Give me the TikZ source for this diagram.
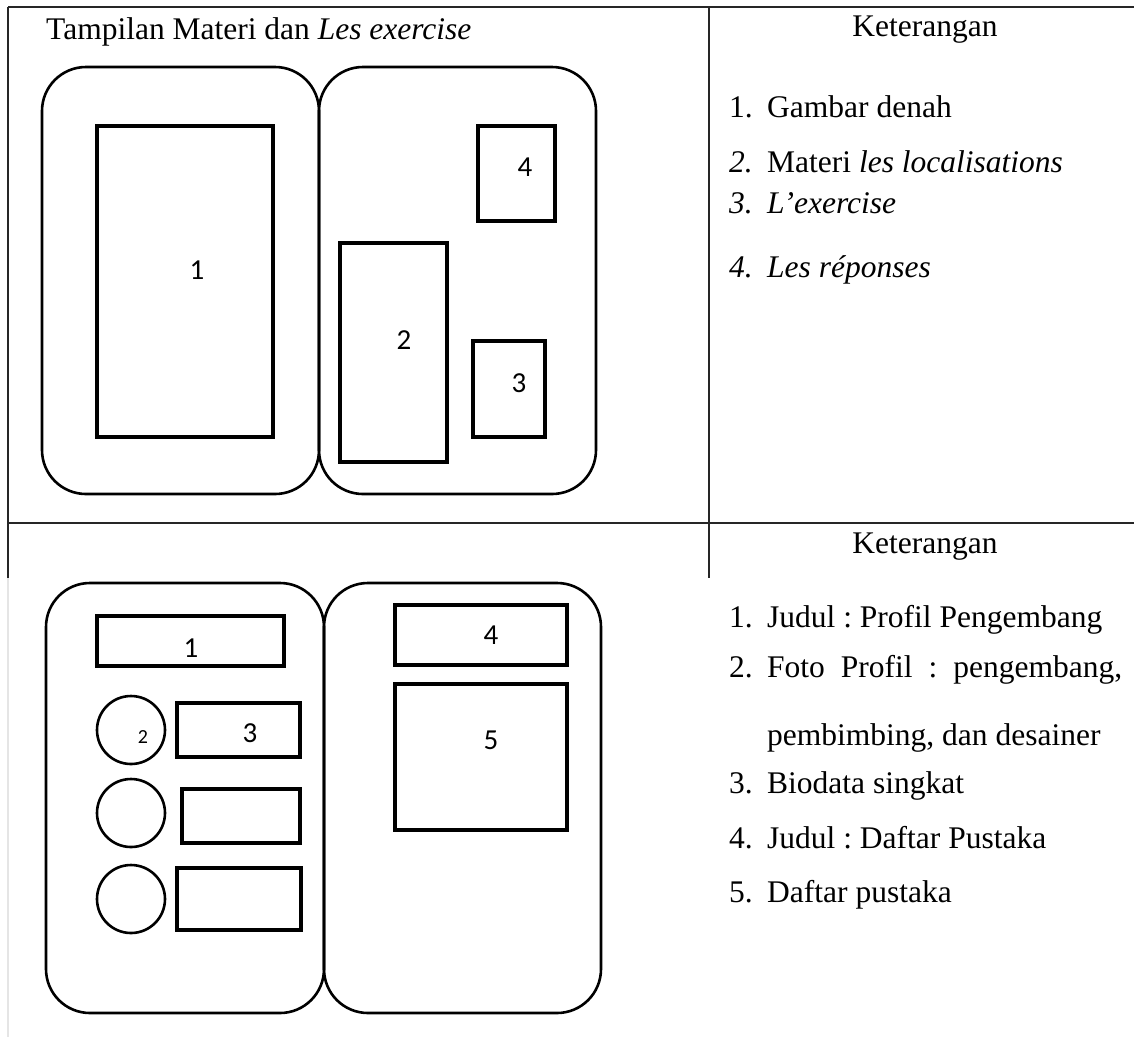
\documentclass[tikz,border=0pt]{standalone}
\usepackage{fontspec}
\setmainfont{Liberation Serif}
\newfontfamily\boxfont{Carlito}
\usetikzlibrary{positioning}
\newcommand{\itemline}[2]{\makebox[38pt][l]{#1}#2}
\frenchspacing

\begin{document}
\begin{tikzpicture}[x=1pt,y=-1pt,
 gridline/.style={line width=1.6pt,black!85},
 faintline/.style={line width=1.6pt,black!10},
 pane/.style={line width=2.6pt,rounded corners=44pt},
 slot/.style={line width=3.6pt},
 photo/.style={line width=2.6pt},
 digit/.style={inner sep=0pt,font=\boxfont\fontsize{29}{31}\selectfont},
 caption/.style={inner sep=0pt,anchor=base west,font=\fontsize{31.5}{36}\selectfont}]
 \useasboundingbox (0,0) rectangle (1134,1037);
 % table lines
 \draw[gridline] (8,7) -- (1134,7);
 \draw[gridline] (8,523) -- (1134,523);
 \draw[gridline] (8,7) -- (8,578);
 \draw[gridline] (709,7) -- (709,578);
 \draw[faintline] (8,578) -- (8,1037);
 % upper row: materi
 \node[caption] (title) at (46,39) {Tampilan Materi dan \textit{Les exercise}};
 \node[caption,anchor=base] (ketA) at (925,36) {Keterangan};
 \draw[pane] (42,67) rectangle (319,494);
 \draw[pane] (319,67) rectangle (596,494);
 \draw[slot] (97,126) rectangle (273,437);
 \draw[slot] (478,126) rectangle (555,221);
 \draw[slot] (340,243) rectangle (447,462);
 \draw[slot] (473,341) rectangle (545,437);
 \node[digit] (a1) at (197,270) {1};
 \node[digit] (a4) at (525,167) {4};
 \node[digit] (a2) at (404,340) {2};
 \node[digit] (a3) at (519,383) {3};
 \node[caption] (ka1) at (729,117) {\itemline{1.}{Gambar denah}};
 \node[caption] (ka2) at (729,172) {\itemline{\textit{2.}}{Materi \textit{les localisations}}};
 \node[caption] (ka3) at (729,213) {\itemline{\textit{3.}}{\textit{L’exercise}}};
 \node[caption] (ka4) at (729,277) {\itemline{\textit{4.}}{\textit{Les réponses}}};
 % lower row: profil
 \node[caption,anchor=base] (ketB) at (925,553) {Keterangan};
 \draw[pane] (46,583) rectangle (324,1013);
 \draw[pane] (324,583) rectangle (601,1013);
 \draw[slot] (97,616) rectangle (284,666);
 \node[digit] (b1) at (191,648) {1};
 \foreach \cy in {730,813,899}
   \draw[photo] (131,\cy) circle (34);
 \node[digit,font=\boxfont\fontsize{20}{22}\selectfont] (b2) at (143,737) {2};
 \draw[slot] (177,703) rectangle (300,757);
 \draw[slot] (182,789) rectangle (300,843);
 \draw[slot] (177,868) rectangle (301,930);
 \node[digit] (b3) at (250,733) {3};
 \draw[slot] (395,605) rectangle (567,665);
 \draw[slot] (395,684) rectangle (567,830);
 \node[digit] (b4) at (491,635) {4};
 \node[digit] (b5) at (491,740) {5};
 \node[caption] (kb1) at (729,627) {\itemline{1.}{Judul : Profil Pengembang}};
 \node[caption] (kb2) at (729,677) {\itemline{2.}{\makebox[355pt][s]{Foto Profil : pengembang,}}};
 \node[caption] (kb2b) at (767,745) {pembimbing, dan desainer};
 \node[caption] (kb3) at (729,793) {\itemline{3.}{Biodata singkat}};
 \node[caption] (kb4) at (729,848) {\itemline{4.}{Judul : Daftar Pustaka}};
 \node[caption] (kb5) at (729,902) {\itemline{5.}{Daftar pustaka}};
\end{tikzpicture}
\end{document}
